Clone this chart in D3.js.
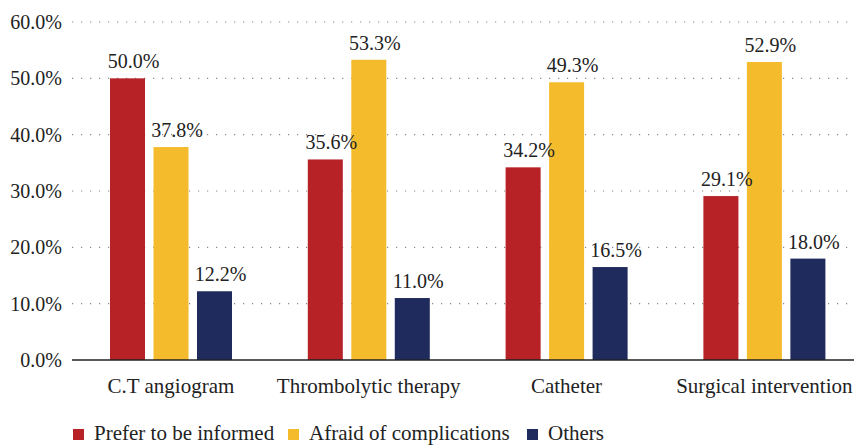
<!DOCTYPE html>
<html>
<head>
<meta charset="utf-8">
<script src="https://cdn.jsdelivr.net/npm/d3@7"></script>
</head>
<body style="margin:0; background:#fff">
<svg id="chart" width="854" height="446"></svg>
<script>
let categories = ['C.T angiogram', 'Thrombolytic therapy', 'Catheter', 'Surgical intervention'];
let series = ['Prefer to be informed', 'Afraid of complications', 'Others'];
let prefer = [50.0, 35.6, 34.2, 29.1];
let afraid = [37.8, 53.3, 49.3, 52.9];
let others = [12.2, 11.0, 16.5, 18.0];
let y_ticks = [0, 10, 20, 30, 40, 50, 60];
let colors = ['#b72227', '#f4bc2c', '#1f2b5c'];

let margin = {top: 22, right: 0, bottom: 86, left: 72};
let width = 854, height = 446;
let values = [prefer, afraid, others];
let face = 'Liberation Serif';

let svg = d3.select('#chart').attr('font-family', face);

let x0 = d3.scaleBand().domain(categories).range([margin.left, margin.left + 4 * 197.8]);
let x1 = d3.scaleBand().domain(series).range([38, 160]).paddingInner(0.195);
let y = d3.scaleLinear().domain([0, 60]).range([height - margin.bottom, margin.top]);
let color = d3.scaleOrdinal().domain(series).range(colors);
let fmt = v => v.toFixed(1) + '%';

function styleText(sel, size) {
  sel.attr('font-family', face).attr('font-size', size).attr('fill', '#222');
}

// grid
svg.append('g').attr('class', 'grid')
  .selectAll('line')
  .data(y_ticks.filter(t => t > 0))
  .join('line')
    .attr('x1', margin.left)
    .attr('x2', width)
    .attr('y1', d => y(d))
    .attr('y2', d => y(d))
    .attr('stroke', '#888')
    .attr('stroke-width', 1.2)
    .attr('stroke-dasharray', '1.2,7.8');

// y tick labels
let yaxis = svg.append('g')
  .attr('transform', `translate(${margin.left - 10},0)`)
  .call(d3.axisLeft(y).tickValues(y_ticks).tickFormat(d => d.toFixed(1) + '%').tickSize(0).tickPadding(0));
yaxis.select('.domain').remove();
yaxis.attr('font-family', face).attr('font-size', 20);
yaxis.selectAll('text').call(styleText, 20);

// bars
let groups = svg.append('g').selectAll('g')
  .data(categories)
  .join('g')
    .attr('transform', d => `translate(${x0(d)},0)`);

groups.selectAll('rect')
  .data((c, i) => series.map((s, j) => ({s, v: values[j][i]})))
  .join('rect')
    .attr('x', d => x1(d.s))
    .attr('width', x1.bandwidth())
    .attr('y', d => y(d.v))
    .attr('height', d => y(0) - y(d.v))
    .attr('fill', d => color(d.s));

groups.selectAll('text.val')
  .data((c, i) => series.map((s, j) => ({s, v: values[j][i]})))
  .join('text')
    .attr('class', 'val')
    .attr('x', d => x1(d.s) + x1.bandwidth() / 2 + 6)
    .attr('y', d => y(d.v) - 10)
    .attr('text-anchor', 'middle')
    .text(d => fmt(d.v))
    .call(styleText, 20);

// x axis
let xaxis = svg.append('g')
  .attr('transform', `translate(0,${y(0)})`)
  .call(d3.axisBottom(x0).tickSize(0).tickPadding(18));
xaxis.select('.domain').remove();
xaxis.attr('font-family', face).attr('font-size', 21);
xaxis.append('line')
  .attr('x1', margin.left).attr('x2', width)
  .attr('stroke', '#222').attr('stroke-width', 1.5);
xaxis.selectAll('text').call(styleText, 21);

// legend
let legend_x = [73, 288, 527];
let legend = svg.append('g').selectAll('g')
  .data(series)
  .join('g')
    .attr('transform', (d, i) => `translate(${legend_x[i]},429)`);
legend.append('rect')
  .attr('width', 11).attr('height', 11)
  .attr('fill', d => color(d));
legend.append('text')
  .attr('x', 21).attr('y', 11)
  .text(d => d)
  .call(styleText, 21);
</script>
</body>
</html>
